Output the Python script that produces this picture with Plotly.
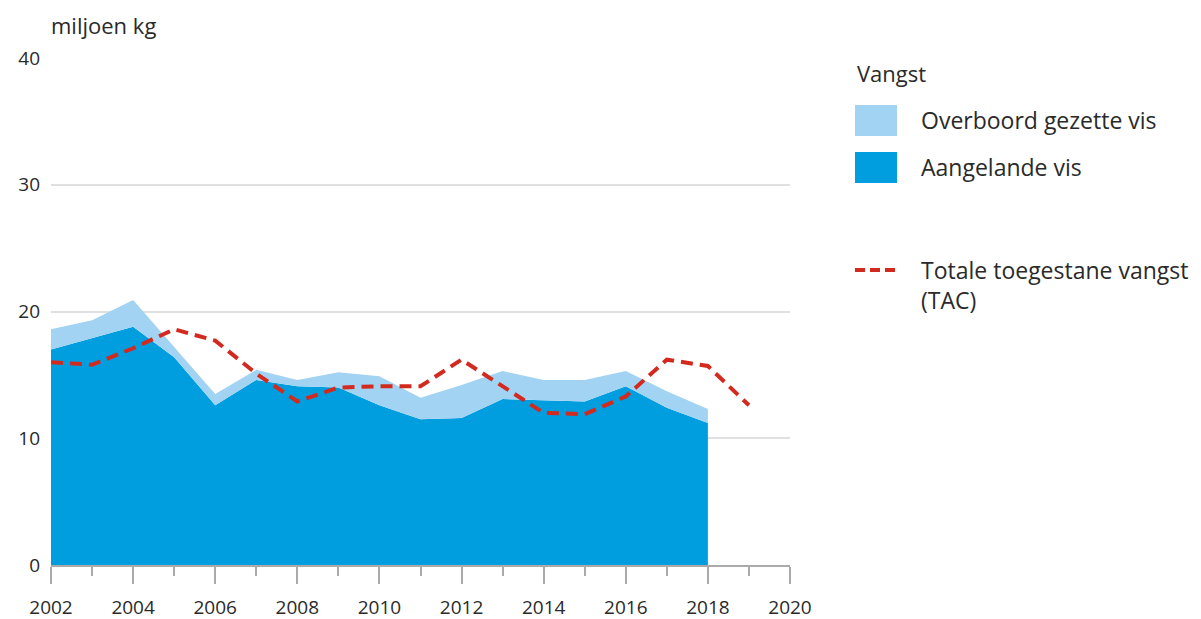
import plotly.graph_objects as go

years = list(range(2002, 2019))
aangeland = [17.0, 17.9, 18.8, 16.4, 12.6, 14.6, 14.1, 14.0, 12.6, 11.5, 11.6, 13.1, 13.0, 12.9, 14.1, 12.4, 11.2]
totaal = [18.6, 19.3, 20.9, 17.2, 13.5, 15.4, 14.6, 15.2, 14.9, 13.2, 14.2, 15.3, 14.6, 14.6, 15.3, 13.7, 12.3]
tac_years = list(range(2002, 2020))
tac = [16.0, 15.8, 17.1, 18.6, 17.7, 15.1, 12.9, 14.0, 14.1, 14.1, 16.2, 14.1, 12.0, 11.9, 13.3, 16.2, 15.7, 12.6]

x_ticks = list(range(2002, 2021, 2))
y_ticks = [0, 10, 20, 30, 40]

DARK = "#009ddf"
LIGHT = "#a2d3f3"
RED = "#d22a1f"
TEXT = "#2a2a2a"
FONT = "Open Sans"

# page body has an 8px margin; work in window pixels and shift by it
OFF = 8
W, H = 1201 - OFF, 619 - OFF
L, R, T, B = 51 - OFF, 790 - OFF, 58 - OFF, 565 - OFF


def px(xp):
    return (xp - OFF - L) / (R - L)


def py(yp):
    return (B - (yp - OFF)) / (B - T)


fig = go.Figure()
fig.add_trace(go.Scatter(x=years, y=aangeland, mode="lines", line=dict(width=0, color=DARK),
                         fill="tozeroy", fillcolor=DARK, name="Aangelande vis", hoverinfo="x+y"))
fig.add_trace(go.Scatter(x=years, y=totaal, mode="lines", line=dict(width=0, color=LIGHT),
                         fill="tonexty", fillcolor=LIGHT, name="Overboord gezette vis", hoverinfo="x+y"))
fig.add_trace(go.Scatter(x=tac_years, y=tac, mode="lines", line=dict(width=4, color=RED, dash="12px,7px"),
                         name="Totale toegestane vangst (TAC)"))

shapes = [
    dict(type="rect", xref="paper", yref="paper", x0=px(855), x1=px(897), y0=py(136), y1=py(105),
         fillcolor=LIGHT, line=dict(width=0)),
    dict(type="rect", xref="paper", yref="paper", x0=px(855), x1=px(897), y0=py(183), y1=py(152),
         fillcolor=DARK, line=dict(width=0)),
    dict(type="line", xref="paper", yref="paper", x0=px(855), x1=px(898), y0=py(270), y1=py(270),
         line=dict(color=RED, width=4, dash="10px,5px")),
]

annotations = [
    dict(text="miljoen kg", x=px(49), y=py(25), size=22),
    dict(text="Vangst", x=px(855), y=py(73), size=22),
    dict(text="Overboord gezette vis", x=px(919), y=py(120), size=23),
    dict(text="Aangelande vis", x=px(919), y=py(167), size=23),
    dict(text="Totale toegestane vangst", x=px(919), y=py(270), size=23),
    dict(text="(TAC)", x=px(919), y=py(300), size=23),
]
for a in annotations:
    s = a.pop("size")
    a.update(xref="paper", yref="paper", showarrow=False, xanchor="left", yanchor="middle",
             font=dict(family=FONT, size=s, color=TEXT))

fig.update_layout(
    width=W, height=H,
    margin=dict(l=L, r=W - R, t=T, b=H - B, pad=0, autoexpand=False),
    paper_bgcolor="white", plot_bgcolor="white",
    showlegend=False,
    shapes=shapes,
    annotations=annotations,
    font=dict(family=FONT, size=18, color=TEXT),
    xaxis=dict(range=[2002, 2020], tickvals=x_ticks, ticktext=[str(v) for v in x_ticks],
               automargin=False,
               showgrid=False, zeroline=False, showline=True, linecolor="#aaaaaa", linewidth=2,
               ticks="outside", ticklen=17, tickwidth=2, tickcolor="#aaaaaa",
               ticklabelstandoff=7,
               minor=dict(dtick=1, tick0=2002, ticks="outside", ticklen=9, tickwidth=2,
                          tickcolor="#aaaaaa", showgrid=False),
               tickfont=dict(family=FONT, size=19, color=TEXT), fixedrange=True),
    yaxis=dict(range=[0, 40], tickvals=y_ticks, ticktext=[str(v) for v in y_ticks],
               automargin=False,
               showgrid=True, gridcolor="#e0e0e0", gridwidth=2, zeroline=False, showline=False,
               ticks="", ticklabelstandoff=10,
               tickfont=dict(family=FONT, size=19, color=TEXT), fixedrange=True),
)

fig.write_html("out.html")
